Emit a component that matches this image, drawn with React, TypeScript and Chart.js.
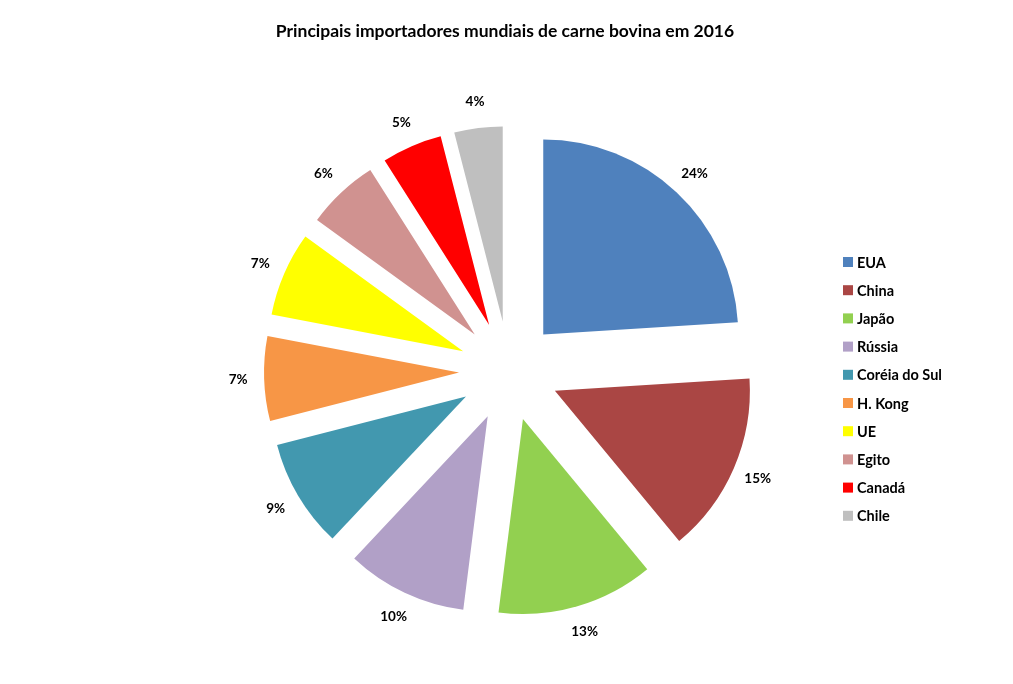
import React, { useEffect, useRef } from "react";
import { Chart, registerables } from "chart.js";

Chart.register(...registerables);

const TITLE = "Principais importadores mundiais de carne bovina em 2016";
const categories = ["EUA", "China", "Japão", "Rússia", "Coréia do Sul", "H. Kong", "UE", "Egito", "Canadá", "Chile"];
const shares = [24, 15, 13, 10, 9, 7, 7, 6, 5, 4];
const colors = ["#4F81BD", "#AA4644", "#92D050", "#B1A0C7", "#4298AF", "#F79646", "#FFFF00", "#D09290", "#FF0000", "#BFBFBF"];

const FONT = "Lato, 'Open Sans', sans-serif";
const EXPLODE = 50;

const explodePlugin = {
  id: "explode",
  beforeDatasetDraw(chart: any, args: any) {
    const ctx = chart.ctx as CanvasRenderingContext2D;
    const meta = args.meta;
    meta.data.forEach((arc: any) => {
      const p = arc.getProps(["startAngle", "endAngle"], true);
      const mid = (p.startAngle + p.endAngle) / 2;
      ctx.save();
      ctx.translate(Math.cos(mid) * EXPLODE, Math.sin(mid) * EXPLODE);
      arc.draw(ctx);
      ctx.restore();
    });
    return false;
  },
};

const overlayPlugin = {
  id: "overlay",
  afterDraw(chart: any) {
    const ctx = chart.ctx as CanvasRenderingContext2D;
    const meta = chart.getDatasetMeta(0);
    ctx.save();
    ctx.fillStyle = "#000";
    ctx.font = `bold 17.5px ${FONT}`;
    ctx.textAlign = "center";
    ctx.textBaseline = "middle";
    ctx.fillText(TITLE, 505, 31);
    ctx.font = `bold 13.5px ${FONT}`;
    const total = shares.reduce((a, b) => a + b, 0);
    meta.data.forEach((arc: any, i: number) => {
      const p = arc.getProps(["x", "y", "startAngle", "endAngle", "outerRadius"], true);
      const mid = (p.startAngle + p.endAngle) / 2;
      const r = p.outerRadius + EXPLODE + 26;
      const x = p.x + Math.cos(mid) * r;
      const y = p.y + Math.sin(mid) * r;
      ctx.fillText(Math.round((shares[i] / total) * 100) + "%", x, y);
    });
    ctx.textAlign = "left";
    ctx.font = `bold 14.5px ${FONT}`;
    categories.forEach((c, i) => {
      const y = 262 + i * 28.2;
      ctx.fillStyle = colors[i];
      ctx.fillRect(843, y - 5, 10, 10);
      ctx.fillStyle = "#000";
      ctx.fillText(c, 857, y + 1);
    });
    ctx.restore();
  },
};

export default function App() {
  const ref = useRef<HTMLCanvasElement>(null);
  useEffect(() => {
    document.body.style.margin = "0";
    const chart = new Chart(ref.current!, {
      type: "pie",
      data: {
        labels: categories,
        datasets: [
          {
            data: shares,
            backgroundColor: colors,
            borderWidth: 0,
            clip: false,
          } as any,
        ],
      },
      options: {
        responsive: false,
        animation: false,
        radius: 195,
        layout: { padding: { left: 10, right: 5, top: 58, bottom: 0 } },
        plugins: {
          legend: { display: false },
          title: { display: false },
          tooltip: { enabled: false },
        },
        events: [],
      } as any,
      plugins: [explodePlugin, overlayPlugin],
    });
    return () => chart.destroy();
  }, []);
  return (
    <div style={{ position: "fixed", left: 0, top: 0, width: 1013, height: 684, background: "#fff" }}>
      <canvas ref={ref} width={1013} height={684} style={{ display: "block" }} />
    </div>
  );
}
